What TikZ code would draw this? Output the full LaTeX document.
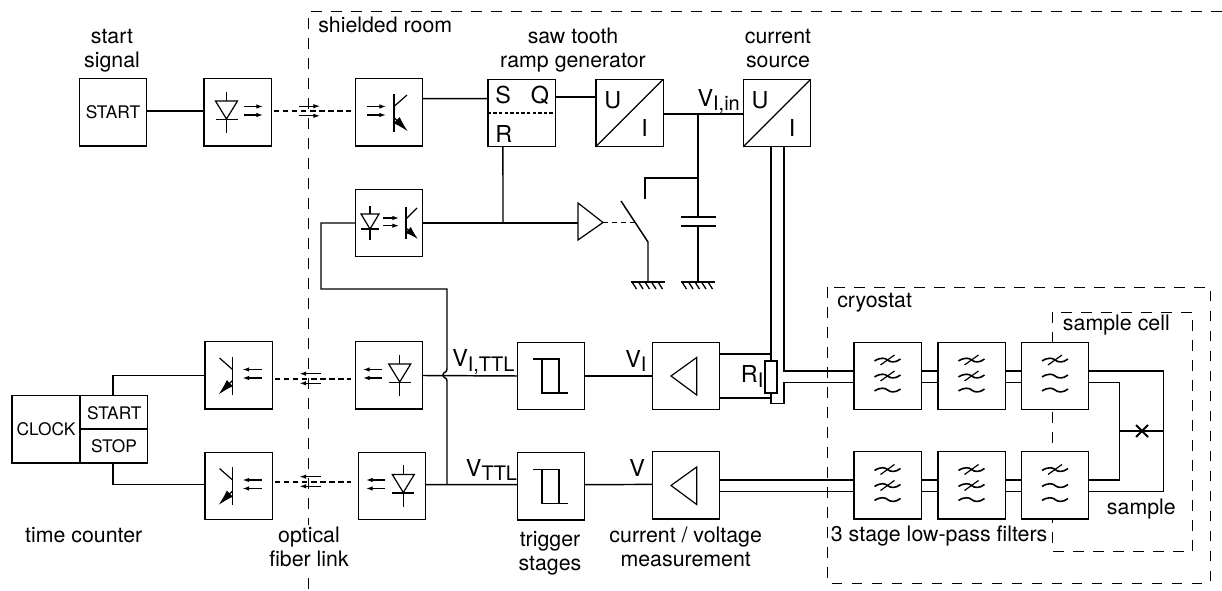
\documentclass[tikz,border=0pt]{standalone}
\usepackage{fontspec}
\setmainfont{TeX Gyre Heros}
\usetikzlibrary{arrows.meta}
\tikzset{>={Latex[width=3.4pt,length=5pt]}}
\tikzset{
  box/.style={draw, fill=white, line width=1.1pt, minimum size=50.6pt, inner sep=0pt, outer sep=0pt},
  wire/.style={line width=1.1pt},
  dwire/.style={line width=1.1pt, dash pattern=on 4pt off 2.8pt},
  room/.style={line width=.6pt, dash pattern=on 8pt off 7pt},
  symline/.style={line width=.9pt},
  lbl/.style={inner sep=0pt, align=center, font=\fontsize{16}{18}\selectfont},
  big/.style={inner sep=0pt, font=\fontsize{17.5}{20}\selectfont},
  tiny/.style={inner sep=0pt, font=\fontsize{13}{15}\selectfont}
}
\newcommand\lowtext[1]{\raisebox{-3.2pt}{\fontsize{15}{15}\selectfont #1}}
%% symbols, drawn relative to a box: #1 box name, #2 x offset
\newcommand\diodesym[2]{\begin{scope}[shift={(#1)},shift={(#2,0)},symline]
  \draw (0,-20.5) -- (0,-11.5);
  \draw (0,6.5) -- (0,21);
  \draw (-11,-11.5) -- (11,-11.5) -- (0,6.5) -- cycle;
  \draw (-11,7) -- (11,7);
\end{scope}}
\newcommand\rayright[2]{\begin{scope}[shift={(#1)},shift={(#2,0)},symline]
  \draw[->] (0,-6) -- (19,-6);
  \draw[->] (0,2.5) -- (19,2.5);
\end{scope}}
\newcommand\rayleft[2]{\begin{scope}[shift={(#1)},shift={(#2,0)},symline]
  \draw[->] (19,-6) -- (0,-6);
  \draw[->] (19,2.5) -- (0,2.5);
\end{scope}}
%% arrows on the fibre, #1 the point on the dashed line, #2 is 1 to the right, -1 to the left
\newcommand\fiberrays[2]{\begin{scope}[shift={(#1)},xscale=#2,symline]
  \draw[->] (-10.5,-4.8) -- (10.5,-4.8);
  \draw[->] (-10.5,4.8) -- (10.5,4.8);
\end{scope}}
%% #3 is 1 for a transistor facing right, -1 for one facing left
\newcommand\transsym[3]{\begin{scope}[shift={(#1)},shift={(#2,0)},symline,xscale=#3]
  \draw (0,-18.5) -- (0,19.5);
  \draw (0,-6) -- (13,-17.5);
  \draw[-{Latex[width=6.5pt,length=12pt]}] (0,5) -- (14,19);
\end{scope}}
\newcommand\trigsym[1]{\begin{scope}[shift={(#1)},symline]
  \draw (-18,-17) -- (8,-17) -- (8,17);
  \draw (-9,-17) -- (-9,17) -- (17,17);
\end{scope}}
\newcommand\ampsym[1]{\begin{scope}[shift={(#1)},symline]
  \draw (10.7,-18.5) -- (10.7,19) -- (-15,0) -- cycle;
\end{scope}}
\newcommand\wavy[1]{\draw[line width=1.2pt] (-13,#1+1) .. controls (-7,#1-3) and (-2,#1-2) .. (0,#1) .. controls (3,#1+2.5) and (8,#1+3) .. (13,#1-1);}
\newcommand\slashsym[1]{\draw[line width=.9pt] (-7,#1+5) -- (7,#1-5);}
%% #2 = number of the slashed lines
\newcommand\filtersym[2]{\begin{scope}[shift={(#1)}]
  \wavy{-16} \wavy{0} \wavy{14}
  \slashsym{-16}
  \ifnum#2>1 \slashsym{0}\fi
\end{scope}}
\newcommand\groundsym[1]{\begin{scope}[shift={(#1)}]
  \draw[line width=1.2pt] (-17,0) -- (17,0);
  \foreach \h in {-16,-9.5,-3,3.5,10}
    \draw[line width=1pt] (\h,0) -- (\h+4.5,7);
\end{scope}}

\begin{document}
\begin{tikzpicture}[x=.75pt,y=-.75pt]
  \useasboundingbox (0,0) rectangle (1222,591);

  %% dashed enclosures
  \draw[room] (1222,11.5) -- (308.5,11.5) -- (308.5,591);
  \draw[room] (827.5,287) rectangle (1210,583);
  \draw[room] (1052.5,312) rectangle (1192.5,551.5);

  %% boxes
  \node[box, font=\fontsize{13}{15}\selectfont] (start) at (113,112.5) {START};
  \node[box] (txa) at (237.5,112.5) {};
  \node[box] (rxa) at (389,112.5) {};
  \node[box] (sr) at (521.5,113) {};
  \node[box] (uia) at (629.5,113) {};
  \node[box] (uib) at (777,113) {};
  \node[box] (opto) at (389,223) {};
  \node[box] (txb) at (238.5,375.5) {};
  \node[box] (rxb) at (389,375.5) {};
  \node[box] (trga) at (551,376) {};
  \node[box] (ampa) at (686,376) {};
  \node[box] (txc) at (238.5,486) {};
  \node[box] (rxc) at (392,486) {};
  \node[box] (trgb) at (551,486.5) {};
  \node[box] (ampb) at (686,485.5) {};
  \node[box] (fa) at (887.5,376) {};
  \node[box] (fb) at (971.5,376) {};
  \node[box] (fc) at (1055,376) {};
  \node[box] (fd) at (887.5,485.5) {};
  \node[box] (fe) at (971.5,485.5) {};
  \node[box] (ff) at (1055,485.5) {};
  \node[box, minimum width=101.6pt] (clock) at (79.7,429.2) {};

  %% junctions and corners
  \coordinate (bufin) at (578,223);
  \coordinate (juna) at (503,223);
  \coordinate (junb) at (698,114);
  \coordinate (junc) at (698,178);
  \coordinate (swtop) at (645,199);
  \coordinate (capa) at (698,217);
  \coordinate (capb) at (698,226);
  \coordinate (gnda) at (648,282);
  \coordinate (gndb) at (698,282);
  \coordinate (swblade) at (648,242);
  \coordinate (swend) at (621,201);
  \coordinate (loopa) at (321,289);
  \coordinate (loopb) at (447,289);
  \coordinate (hopa) at (447,369);
  \coordinate (hopb) at (443,375);
  \coordinate (hopc) at (447,381);
  \coordinate (jund) at (447,484.5);
  \coordinate (rtop) at (771,354);
  \coordinate (rbot) at (771,398);
  \coordinate (rlow) at (784,403.5);
  \coordinate (crl) at (1120,431);
  \coordinate (crr) at (1164,431);

  %% connectors
  \draw[wire] ([yshift=1.1pt]start.east) -- ([yshift=1.1pt]txa.west);
  \draw[dwire] ([yshift=1.1pt,xshift=2pt]txa.east) -- ([yshift=1.1pt,xshift=-3.5pt]rxa.west);
  \draw[dwire] ([yshift=-2.6pt,xshift=2pt]txb.east) -- ([yshift=-2.6pt,xshift=-3.5pt]rxb.west);
  \draw[dwire] ([yshift=3pt,xshift=2pt]txc.east) -- ([yshift=3pt,xshift=-5.5pt]rxc.west);
  \draw[wire] ([yshift=10.4pt]rxa.east) -- ([yshift=10.8pt]sr.west);
  \draw[wire] ([yshift=12pt]sr.east) -- ([yshift=12pt]uia.west);
  \draw[wire] ([yshift=-.7pt]uia.east) -- ([yshift=-.7pt]uib.west);
  \draw[wire] (junb) -- (capa);
  \draw[wire] (capb) -- (gndb);
  \draw[wire] (junc) -| (swtop);
  \draw[wire] (swend) -- (swblade) -- (gnda);
  \draw[wire] ([xshift=-13.9pt]sr.south) -- (juna);
  \draw[wire] (opto.east) -- (bufin);
  \draw[wire] (opto.west) -| (loopa) -- (loopb) -- (hopa)
    .. controls (447,373) and (443,371.5) .. (hopb)
    .. controls (443,378.5) and (447,377) .. (hopc) -- (jund);
  \draw[wire] (rxb.east) -- (trga.west);
  \draw[wire] ([yshift=1pt]rxc.east) -- ([yshift=1.4pt]trgb.west);
  \draw[wire] (trga.east) -- (ampa.west);
  \draw[wire] ([yshift=1.4pt]trgb.east) -- ([yshift=.8pt]ampb.west);
  \draw[wire] ([xshift=-4.5pt]uib.south) |- (rlow) |- ([yshift=-5pt]fa.west);
  \draw[wire] ([xshift=5.25pt]uib.south) |- ([yshift=3.75pt]fa.west);
  \draw[wire] ([yshift=16.5pt]ampa.east) -- (rtop);
  \draw[wire] ([yshift=-16.5pt]ampa.east) -- (rbot);
  \draw[wire] ([yshift=3.75pt]fa.east) -- ([yshift=3.75pt]fb.west);
  \draw[wire] ([yshift=-5pt]fa.east) -- ([yshift=-5pt]fb.west);
  \draw[wire] ([yshift=3.75pt]fb.east) -- ([yshift=3.75pt]fc.west);
  \draw[wire] ([yshift=-5pt]fb.east) -- ([yshift=-5pt]fc.west);
  \draw[wire] ([yshift=4pt]ampb.east) -- ([yshift=4pt]fd.west);
  \draw[wire] ([yshift=-4.5pt]ampb.east) -- ([yshift=-4.5pt]fd.west);
  \draw[wire] ([yshift=4pt]fd.east) -- ([yshift=4pt]fe.west);
  \draw[wire] ([yshift=-4.5pt]fd.east) -- ([yshift=-4.5pt]fe.west);
  \draw[wire] ([yshift=4pt]fe.east) -- ([yshift=4pt]ff.west);
  \draw[wire] ([yshift=-4.5pt]fe.east) -- ([yshift=-4.5pt]ff.west);
  \draw[wire] ([yshift=3.75pt]fc.east) -| ([yshift=-4.5pt,xshift=56.25pt]ff.east) -- ([yshift=-4.5pt]ff.east);
  \draw[wire] ([yshift=-5pt]fc.east) -| ([yshift=4pt,xshift=23.25pt]ff.east) -- ([yshift=4pt]ff.east);
  \draw[wire] (crl) -- (crr);
  \draw[wire] ([xshift=25pt]clock.north) |- ([yshift=0pt]txb.west);
  \draw[wire] ([xshift=25pt]clock.south) |- ([yshift=1pt]txc.west);

  %% resistor
  \node[draw, fill=white, line width=.9pt, minimum width=9pt, minimum height=24pt, inner sep=0pt] (ri) at (771,377) {};

  %% buffer, switch and capacitor
  \draw[symline] (bufin) ++(0,-20) -- ++(0,37) -- (603,222.5) -- cycle;
  \draw[dwire] (603,222.5) -- (635,222.5);
  \draw[line width=1.6pt] (681,217) -- (716,217);
  \draw[line width=1.6pt] (681,226) -- (716,226);
  \groundsym{gnda}
  \groundsym{gndb}
  \draw[line width=1.4pt] (1136,425) -- (1148,437);
  \draw[line width=1.4pt] (1148,425) -- (1136,437);

  %% lines inside the boxes
  \draw[line width=.8pt, dash pattern=on 2.6pt off 1.6pt] (sr.west) -- (sr.east);
  \draw[symline] (uia.south west) -- (uia.north east);
  \draw[symline] (uib.south west) -- (uib.north east);
  \draw[line width=.8pt] (80,395.5) -- (80,463);
  \draw[line width=.8pt] (80,429) -- (147.5,429);

  %% optical parts
  \diodesym{txa}{-11}
  \rayright{txa}{6.5}
  \fiberrays{309.5,111}{1}
  \rayright{rxa}{-22}
  \transsym{rxa}{5}{1}
  \begin{scope}[shift={(opto)},symline]
    \draw (-19,-17) -- (-19,-9);
    \draw (-19,6) -- (-19,17.5);
    \draw (-28,-9) -- (-10,-9) -- (-19,6) -- cycle;
    \draw (-28,6) -- (-10,6);
    \draw[->] (-6,-5) -- (10,-5);
    \draw[->] (-6,2.7) -- (10,2.7);
    \draw (17,-15.5) -- (17,16.5);
    \draw (17,-4) -- (28,-15);
    \draw[-{Latex[width=6pt,length=10pt]}] (17,5) -- (29,16);
  \end{scope}
  \transsym{txb}{-6}{-1}
  \rayleft{txb}{4}
  \fiberrays{310,378.5}{-1}
  \rayleft{rxb}{-26}
  \diodesym{rxb}{10.7}
  \transsym{txc}{-6}{-1}
  \rayleft{txc}{4}
  \fiberrays{310,481.5}{-1}
  \rayleft{rxc}{-26}
  \diodesym{rxc}{11.3}

  \trigsym{trga}
  \trigsym{trgb}
  \ampsym{ampa}
  \ampsym{ampb}
  \filtersym{fa}{2}
  \filtersym{fb}{2}
  \filtersym{fc}{1}
  \filtersym{fd}{2}
  \filtersym{fe}{2}
  \filtersym{ff}{1}

  %% texts, the base of a two line text is its last line
  \node[lbl, anchor=base] (startlbl) at (112,68) {start\\signal};
  \node[lbl, anchor=base west] (shieldlbl) at (318,33) {shielded room};
  \node[lbl, anchor=base] (sawlbl) at (573,68) {saw tooth\\ramp generator};
  \node[lbl, anchor=base] (curlbl) at (778,68) {current\\source};
  \node[lbl, anchor=base] (timelbl) at (83.7,543) {time counter};
  \node[lbl, anchor=base, fill=white, inner ysep=2pt] (fiberlbl) at (309,567) {optical\\fiber link};
  \node[lbl, anchor=base] (triglbl) at (550,570.7) {trigger\\stages};
  \node[lbl, anchor=base] (measlbl) at (685.7,567) {current / voltage\\measurement};
  \node[lbl, anchor=base west] (cryolbl) at (837,308) {cryostat};
  \node[lbl, anchor=base west] (celllbl) at (1062.7,331) {sample cell};
  \node[lbl, anchor=base west] (samplbl) at (1106.7,515) {sample};
  \node[lbl, anchor=base west] (filtlbl) at (830.7,541.7) {3 stage low-pass filters};

  \node[big, anchor=base west] (slbl) at (495,104) {S};
  \node[big, anchor=base west] (qlbl) at (530.7,104) {Q};
  \node[big, anchor=base west] (rlbl) at (495,142.7) {R};
  \node[big, anchor=base] (ualbl) at (612.7,109) {U};
  \node[big, anchor=base] (ialbl) at (644.7,136.7) {I};
  \node[big, anchor=base] (ublbl) at (760,109) {U};
  \node[big, anchor=base] (iblbl) at (792,136.7) {I};
  \node[big, anchor=base west] (vinlbl) at (697.3,106.7) {V\lowtext{I,in}};
  \node[big, anchor=base west] (vttlalbl) at (452,367) {V\lowtext{I,TTL}};
  \node[big, anchor=base west] (vttlblbl) at (465.7,476.7) {V\lowtext{TTL}};
  \node[big, anchor=base west] (vilbl) at (625,367.7) {V\lowtext{I}};
  \node[big, anchor=base west] (vlbl) at (629,476.7) {V};
  \node[big, anchor=base west] (rilbl) at (740.7,383) {R\lowtext{I}};

  \node[tiny, anchor=base] (clocklbl) at (46,436) {CLOCK};
  \node[tiny, anchor=base] (startblbl) at (114.3,419.3) {START};
  \node[tiny, anchor=base] (stoplbl) at (114,452.7) {STOP};

\end{tikzpicture}
\end{document}
